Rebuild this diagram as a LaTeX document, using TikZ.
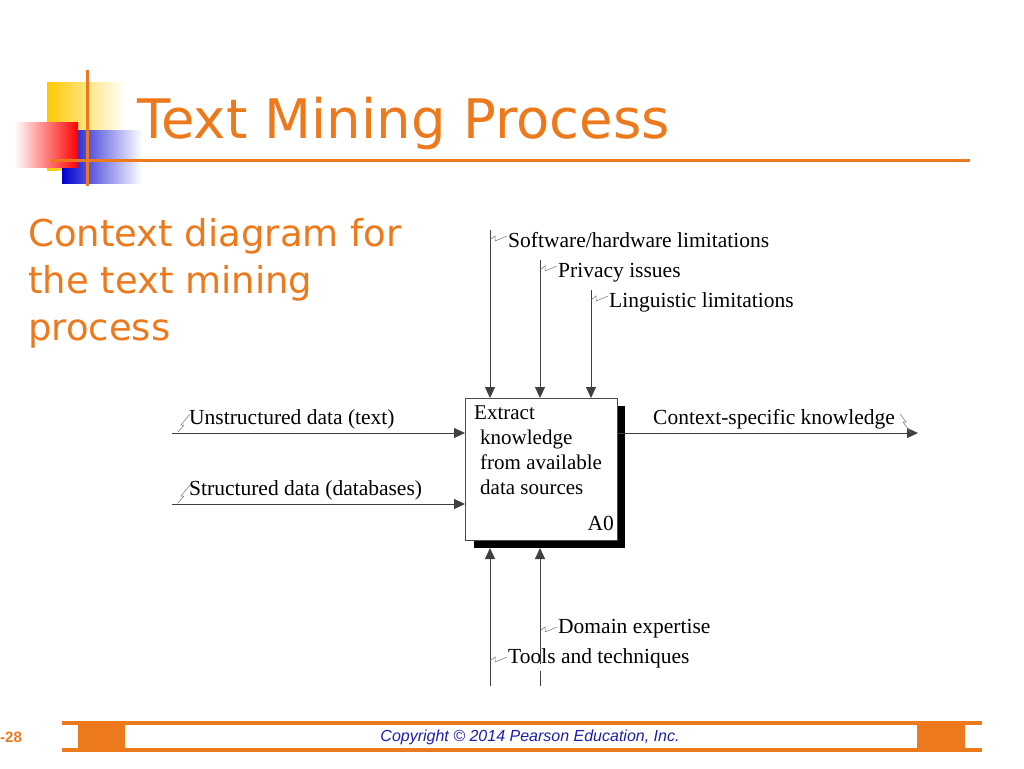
\documentclass[tikz,border=0pt]{standalone}
\usepackage{fontspec}
\setmainfont{Liberation Serif}
\newfontfamily\titlefont{DejaVu Sans}
\newfontfamily\footfont{Liberation Sans}
\usetikzlibrary{arrows.meta,positioning,calc}
\definecolor{pearson}{RGB}{236,122,28}
\definecolor{copyblue}{RGB}{30,30,170}
\definecolor{logoyellow}{RGB}{255,200,0}
\tikzset{
  flow/.style={draw=black!75,line width=0.9pt,-{Triangle[length=11pt,width=10pt]}},
  lbl/.style={font=\fontsize{21.5}{22}\selectfont,inner sep=0pt,anchor=base west},
  squig/.style={draw=black!55,line width=0.5pt}
}
\newcommand{\zigzag}[1]{\draw[squig] ($(#1)+(-12,0)$) -- ++(6,-7) -- ++(-3,0) -- ++(9,-11);}
\begin{document}
\begin{tikzpicture}[x=1pt,y=-1pt]
\useasboundingbox (0,0) rectangle (1024,768);
% logo
\shade[left color=logoyellow,right color=white] (47,82) rectangle (125,170);
\shade[left color=blue!80!black,right color=white] (62,130) rectangle (142,183);
\shade[shading angle=45,left color=white,right color=red] (14,122) rectangle (78,167);
\draw[pearson,line width=3pt] (87,70) -- (87,186);
\draw[pearson,line width=3pt] (50,160) -- (970,160);
\node[anchor=base west,inner sep=0pt,text=pearson,font=\titlefont\fontsize{54.5}{60}\selectfont] (title) at (137,138) {Text Mining Process};
\node[anchor=north west,inner sep=0pt,text=pearson,align=left,font=\titlefont\fontsize{37}{47}\selectfont] (sub) at (28,218) {Context diagram for\\the text mining\\process};
% diagram
\fill (474,406) rectangle (625,548);
\node[draw=black!70,fill=white,line width=0.8pt,minimum width=152pt,minimum height=142pt,anchor=north west,inner sep=0pt] (act) at (465,398) {};
\node[anchor=north west,align=left,inner sep=0pt,font=\fontsize{21}{25}\selectfont] at (474,406) {Extract\\\hspace*{6pt}knowledge\\\hspace*{6pt}from available\\\hspace*{6pt}data sources};
\node[lbl,anchor=base east] at (614,530) {A0};
% inputs
\coordinate (in1) at (172,433);
\coordinate (in2) at (172,504);
\draw[flow] (in1) -- (act.west |- in1);
\draw[flow] (in2) -- (act.west |- in2);
\node[lbl] (l1) at (189,424) {Unstructured data (text)};
\node[lbl] (l2) at (189,495) {Structured data (databases)};
\zigzag{190,432}
\zigzag{190,503}
% output
\coordinate (out) at (918,433);
\draw[flow] (act.east |- out) -- (out);
\node[lbl] (lo) at (653,424) {Context-specific knowledge};
\draw[squig] (900,414) -- ++(6,8) -- ++(-3,0) -- ++(8,11);
% controls
\foreach \x/\y/\t in {490/230/{Software/hardware limitations},540/260/{Privacy issues},591/290/{Linguistic limitations}}{
  \coordinate (c) at (\x,\y);
  \draw[flow] (c) -- (act.north -| c);
  \node[lbl] at (\x+18,\y+17) {\t};
  \draw[squig] (\x,\y+10) -- ++(5,-4) -- ++(0,5) -- ++(12,-5);
}
% mechanisms
\foreach \x/\y/\t in {490/657/{Tools and techniques},540/627/{Domain expertise}}{
  \coordinate (m) at (\x,686);
  \draw[flow] (m) -- (\x,548);
  \node[lbl] at (\x+18,\y+6) {\t};
  \draw[squig] (\x,\y+4) -- ++(5,-4) -- ++(0,5) -- ++(12,-5);
}
\fill[white] (536,664) rectangle (544,671);
% footer
\fill[pearson] (62,721) rectangle (982,725);
\fill[pearson] (62,748) rectangle (982,752);
\fill[pearson] (78,725) rectangle (125,748);
\fill[pearson] (917,725) rectangle (965,748);
\node[text=copyblue,font=\footfont\itshape\fontsize{16}{18}\selectfont] (copy) at (530,737) {Copyright © 2014 Pearson Education, Inc.};
\node[text=pearson,font=\footfont\bfseries\fontsize{15}{18}\selectfont,anchor=west,inner sep=0pt] (pg) at (0,737) {-28};
\end{tikzpicture}
\end{document}
